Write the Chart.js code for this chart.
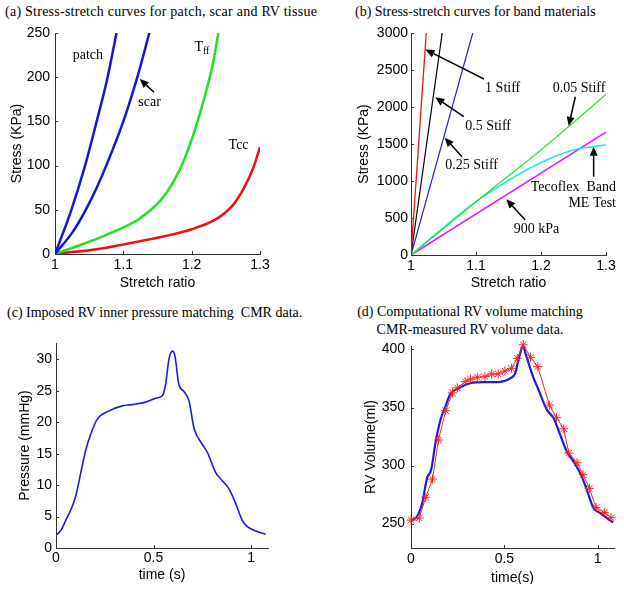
<!DOCTYPE html>
<html>
<head>
<meta charset="utf-8">
<script src="https://cdn.jsdelivr.net/npm/chart.js@4"></script>
<style>
  body { margin: 0; background: #fff; width: 624px; height: 593px; position: relative; overflow: hidden; }
  .panel { position: absolute; }
  .cap { position: absolute; font: 14px "Liberation Serif", "Times New Roman", serif; color: #000; white-space: pre; line-height: 16px; }
</style>
</head>
<body>
<div class="cap" style="left:5px;top:4px;letter-spacing:0.25px">(a) Stress-stretch curves for patch, scar and RV tissue</div>
<div class="cap" style="left:355px;top:4px">(b) Stress-stretch curves for band materials</div>
<div class="cap" style="left:7px;top:305px">(c) Imposed RV inner pressure matching  CMR data.</div>
<div class="cap" style="left:320px;top:303px;width:300px;text-align:center;line-height:18px">(d) Computational RV volume matching
CMR-measured RV volume data.</div>

<div class="panel" style="left:0;top:18px;width:282px;height:273px"><canvas id="chartA"></canvas></div>
<div class="panel" style="left:347px;top:18px;width:277px;height:274px"><canvas id="chartB"></canvas></div>
<div class="panel" style="left:9px;top:330px;width:280px;height:254px"><canvas id="chartC"></canvas></div>
<div class="panel" style="left:354px;top:330px;width:270px;height:254px"><canvas id="chartD"></canvas></div>

<script>
// ---- (a) tissue stress-stretch ----
const stretchPatch = [1, 1.024, 1.044, 1.061, 1.077, 1.09];
const stressPatch  = [0, 50, 100, 150, 200, 250];
const stretchScar  = [1, 1.026, 1.045, 1.061, 1.075, 1.1, 1.1205, 1.138];
const stressScar   = [0, 25, 50, 75, 100, 150, 200, 250];
const stretchTff   = [1, 1.04, 1.07, 1.1, 1.12, 1.134, 1.15, 1.163, 1.183, 1.202, 1.217, 1.232, 1.239];
const stressTff    = [0, 11, 20, 30, 38, 46, 57, 69, 96, 134, 172, 219, 250];
const stretchTcc   = [1, 1.066, 1.115, 1.16, 1.2, 1.237, 1.26, 1.276, 1.29, 1.3];
const stressTcc    = [0, 6, 13, 20, 28, 40, 55, 74, 97, 121];
const stretchTicks = [1, 1.1, 1.2, 1.3];
const stressTicksA = [0, 50, 100, 150, 200, 250];

// ---- (b) band materials ----
const stretch1Stiff   = [1, 1.0235];
const stress1Stiff    = [0, 3000];
const stretchHalf     = [1, 1.048];
const stressHalf      = [0, 3000];
const stretchQuarter  = [1, 1.095];
const stressQuarter   = [0, 3000];
const stretch005      = [1, 1.1, 1.2, 1.25, 1.3];
const stress005       = [0, 720, 1420, 1790, 2170];
const stretchTecoflex = [1, 1.05, 1.1, 1.15, 1.2, 1.25, 1.3];
const stressTecoflex  = [0, 370, 720, 1010, 1250, 1420, 1490];
const stretch900      = [1, 1.3];
const stress900       = [0, 1660];
const stressTicksB    = [0, 500, 1000, 1500, 2000, 2500, 3000];

// ---- (c) imposed RV pressure ----
const timeP = [0, 0.026, 0.05, 0.075, 0.1, 0.126, 0.152, 0.178, 0.212, 0.272, 0.34, 0.39, 0.46, 0.52,
               0.545, 0.562, 0.579, 0.597, 0.61, 0.63, 0.656, 0.682, 0.708, 0.75, 0.776, 0.819, 0.853,
               0.887, 0.921, 0.955, 0.981, 1.024, 1.075];
const pressure = [2.05, 2.8, 4.4, 6.0, 8.1, 11.8, 15.5, 18.1, 20.5, 21.8, 22.6, 22.8, 23.2, 23.9,
                  24.2, 26.0, 30.0, 31.3, 30.5, 26.0, 24.9, 23.4, 19.0, 16.5, 15.2, 12.0, 10.7,
                  9.4, 7.1, 4.4, 3.4, 2.7, 2.2];
const timeTicks = [0, 0.5, 1];
const pressureTicks = [0, 5, 10, 15, 20, 25, 30];

// ---- (d) RV volume: computed vs CMR ----
const timeSim = [0, 0.033, 0.06, 0.086, 0.108, 0.131, 0.158, 0.184, 0.211, 0.255, 0.318, 0.389, 0.46,
                 0.532, 0.558, 0.58, 0.6, 0.613, 0.647, 0.683, 0.728, 0.763, 0.799, 0.834, 0.87,
                 0.914, 0.941, 0.977, 1.012, 1.066, 1.083];
const volSim  = [252.5, 256.3, 267.8, 289.3, 296.4, 319.4, 339.4, 350.8, 361.7, 366.6, 370.9, 371.8, 371.8,
                 375.2, 379.5, 394, 403, 396.7, 379.5, 365.2, 348, 340.9, 326.5, 312.1, 303.6,
                 290.7, 279.2, 263.5, 259.2, 252.8, 251.1];
const timeCMR = [0, 0.044, 0.079, 0.115, 0.147, 0.186, 0.222, 0.248, 0.29, 0.319, 0.355, 0.396, 0.432,
                 0.467, 0.503, 0.538, 0.569, 0.601, 0.64, 0.679, 0.741, 0.779, 0.818, 0.845, 0.889,
                 0.921, 0.955, 0.991, 1.035, 1.071];
const volCMR  = [253, 254.9, 272.7, 288.4, 322, 347.3, 362.6, 367, 372.3, 374.4, 376.1, 376.6, 378.9,
                 378.9, 381.5, 383.8, 392.4, 404, 393.3, 385.2, 352.1, 341.2, 331.7, 310.8, 302.4,
                 292.1, 280.4, 263.8, 259.5, 255.1];
const volTicks = [250, 300, 350, 400];

const sans = 'Liberation Sans, Arial, sans-serif';
const serif = 'Liberation Serif, Times New Roman, serif';

const pts = (xs, ys) => xs.map((v, i) => ({ x: v, y: ys[i] }));

const line = (xs, ys, color, width, curved) => ({
    data: pts(xs, ys),
    borderColor: color,
    borderWidth: width,
    pointRadius: 0,
    fill: false,
    cubicInterpolationMode: curved ? 'monotone' : 'default',
    tension: 0
});

// text labels and arrows drawn in data coordinates
const notesPlugin = {
    id: 'notes',
    afterDatasetsDraw(chart, args, opts) {
        const { ctx, scales: { x, y } } = chart;
        ctx.save();
        ctx.fillStyle = '#000';
        ctx.strokeStyle = '#000';
        (opts.arrows || []).forEach(a => {
            const x0 = x.getPixelForValue(a.from[0]), y0 = y.getPixelForValue(a.from[1]);
            const x1 = x.getPixelForValue(a.to[0]), y1 = y.getPixelForValue(a.to[1]);
            const ang = Math.atan2(y1 - y0, x1 - x0);
            const c = Math.cos(ang), s = Math.sin(ang);
            const hl = 9, hw = 4;
            ctx.lineWidth = 1.5;
            ctx.beginPath();
            ctx.moveTo(x0, y0);
            ctx.lineTo(x1 - hl * c, y1 - hl * s);
            ctx.stroke();
            ctx.beginPath();
            ctx.moveTo(x1, y1);
            ctx.lineTo(x1 - hl * c + hw * s, y1 - hl * s - hw * c);
            ctx.lineTo(x1 - hl * c - hw * s, y1 - hl * s + hw * c);
            ctx.closePath();
            ctx.fill();
        });
        ctx.textBaseline = 'middle';
        (opts.labels || []).forEach(l => {
            const px = x.getPixelForValue(l.at[0]), py = y.getPixelForValue(l.at[1]);
            ctx.font = '14px ' + serif;
            ctx.textAlign = l.align || 'left';
            ctx.fillText(l.text, px, py);
            if (l.sub) {
                const w = ctx.measureText(l.text).width;
                ctx.font = '10px ' + serif;
                ctx.textAlign = 'left';
                ctx.fillText(l.sub, px + w, py + 4);
            }
        });
        ctx.restore();
    }
};

// short inward tick marks and axis titles, matlab style
const axisDeco = {
    id: 'axisDeco',
    afterDraw(chart, args, opts) {
        const { ctx, chartArea: a, scales: { x, y } } = chart;
        ctx.save();
        ctx.strokeStyle = '#333';
        ctx.lineWidth = 1;
        ctx.beginPath();
        x.ticks.forEach(t => {
            const px = Math.round(x.getPixelForValue(t.value)) + 0.5;
            ctx.moveTo(px, a.bottom);
            ctx.lineTo(px, a.bottom - 3);
        });
        y.ticks.forEach(t => {
            const py = Math.round(y.getPixelForValue(t.value)) + 0.5;
            ctx.moveTo(a.left, py);
            ctx.lineTo(a.left + 3, py);
        });
        ctx.stroke();

        ctx.fillStyle = '#000';
        ctx.font = '14px ' + sans;
        ctx.textAlign = 'center';
        ctx.textBaseline = 'middle';
        ctx.fillText(opts.xTitle, (a.left + a.right) / 2, a.bottom + opts.xOff);
        ctx.translate(a.left - opts.yOff, (a.top + a.bottom) / 2);
        ctx.rotate(-Math.PI / 2);
        ctx.fillText(opts.yTitle, 0, 0);
        ctx.restore();
    }
};

function axis(o) {
    return {
        type: 'linear',
        min: o.min,
        max: o.max,
        afterBuildTicks: s => { s.ticks = o.ticks.map(v => ({ value: v })); },
        afterFit: s => {
            if (o.size.h) { s.height = o.size.h; s.paddingLeft = 0; s.paddingRight = 0; }
            if (o.size.w) { s.width = o.size.w; s.paddingTop = 0; s.paddingBottom = 0; }
        },
        grid: { display: false, drawTicks: false },
        border: { color: '#333', width: 1 },
        ticks: {
            padding: o.pad,
            maxRotation: 0,
            autoSkip: false,
            color: '#000',
            font: { family: sans, size: 14 },
            callback: v => String(v)
        },
        title: { display: false }
    };
}

function makeChart(id, datasets, o) {
    return new Chart(document.getElementById(id), {
        type: 'line',
        data: { datasets },
        options: {
            responsive: true,
            maintainAspectRatio: false,
            animation: false,
            layout: { padding: o.padding },
            plugins: {
                legend: { display: false },
                tooltip: { enabled: false },
                notes: o.notes || {},
                axisDeco: { xTitle: o.x.title, xOff: o.x.titleOff, yTitle: o.y.title, yOff: o.y.titleOff }
            },
            scales: { x: axis(o.x), y: axis(o.y) }
        },
        plugins: [notesPlugin, axisDeco]
    });
}

makeChart('chartA', [
    line(stretchPatch, stressPatch, '#1515d8', 2.5, true),
    line(stretchScar, stressScar, '#1515d8', 2.5, true),
    line(stretchTff, stressTff, '#22e022', 2.5, true),
    line(stretchTcc, stressTcc, '#f01010', 2.5, true)
], {
    padding: { left: 8, top: 15, right: 22, bottom: 0 },
    x: { min: 1, max: 1.3, ticks: stretchTicks, size: { h: 37 }, pad: 3, title: 'Stretch ratio', titleOff: 29 },
    y: { min: 0, max: 250, ticks: stressTicksA, size: { w: 47 }, pad: 5, title: 'Stress (KPa)', titleOff: 38 },
    notes: {
        labels: [
            { text: 'patch', at: [1.026, 225] },
            { text: 'scar', at: [1.122, 172] },
            { text: 'T', sub: 'ff', at: [1.204, 234] },
            { text: 'Tcc', at: [1.254, 123] }
        ],
        arrows: [{ from: [1.145, 183], to: [1.124, 198] }]
    }
});

makeChart('chartB', [
    line(stretch1Stiff, stress1Stiff, '#ee1111', 1.3, false),
    line(stretchHalf, stressHalf, '#000000', 1.2, false),
    line(stretchQuarter, stressQuarter, '#2222dd', 1.2, false),
    line(stretch005, stress005, '#33dd33', 1.2, true),
    line(stretchTecoflex, stressTecoflex, '#11eeee', 1.5, true),
    line(stretch900, stress900, '#ee11ee', 1.5, false)
], {
    padding: { left: 8, top: 15, right: 18, bottom: 0 },
    x: { min: 1, max: 1.3, ticks: stretchTicks, size: { h: 37 }, pad: 3, title: 'Stretch ratio', titleOff: 28 },
    y: { min: 0, max: 3000, ticks: stressTicksB, size: { w: 56 }, pad: 3, title: 'Stress (KPa)', titleOff: 47 },
    notes: {
        labels: [
            { text: '1 Stiff', at: [1.114, 2257] },
            { text: '0.5 Stiff', at: [1.0836, 1734] },
            { text: '0.25 Stiff', at: [1.0528, 1207] },
            { text: '0.05 Stiff', at: [1.218, 2253] },
            { text: 'Tecoflex  Band', at: [1.3154, 909], align: 'right' },
            { text: 'ME Test', at: [1.3154, 699], align: 'right' },
            { text: '900 kPa', at: [1.158, 347] }
        ],
        arrows: [
            { from: [1.1123, 2378], to: [1.0223, 2777] },
            { from: [1.0811, 1869], to: [1.0374, 2131] },
            { from: [1.0785, 1328], to: [1.0518, 1585] },
            { from: [1.2528, 2139], to: [1.2426, 1743] },
            { from: [1.281, 1058], to: [1.281, 1464] },
            { from: [1.1758, 473], to: [1.1466, 753] }
        ]
    }
});

makeChart('chartC', [
    line(timeP, pressure, '#1a1ae0', 1.6, true)
], {
    padding: { left: 8, top: 13, right: 21, bottom: 0 },
    x: { min: 0, max: 1.087, ticks: timeTicks, size: { h: 36 }, pad: 2, title: 'time (s)', titleOff: 27 },
    y: { min: 0, max: 32.6, ticks: pressureTicks, size: { w: 39 }, pad: 4, title: 'Pressure (mmHg)', titleOff: 31 }
});

const cmr = line(timeCMR, volCMR, '#ff2020', 1, false);
cmr.pointStyle = 'star';
cmr.pointRadius = 4.5;
cmr.pointBorderWidth = 1;
cmr.pointBorderColor = '#ff2020';
cmr.clip = false;

makeChart('chartD', [
    cmr,
    line(timeSim, volSim, '#1a1ae0', 2.2, true)
], {
    padding: { left: 8, top: 16, right: 10, bottom: 0 },
    x: { min: 0, max: 1.087, ticks: timeTicks, size: { h: 36 }, pad: 3, title: 'time(s)', titleOff: 30 },
    y: { min: 229, max: 403, ticks: volTicks, size: { w: 49 }, pad: 6, title: 'RV Volume(ml)', titleOff: 40 }
});
</script>
</body>
</html>
